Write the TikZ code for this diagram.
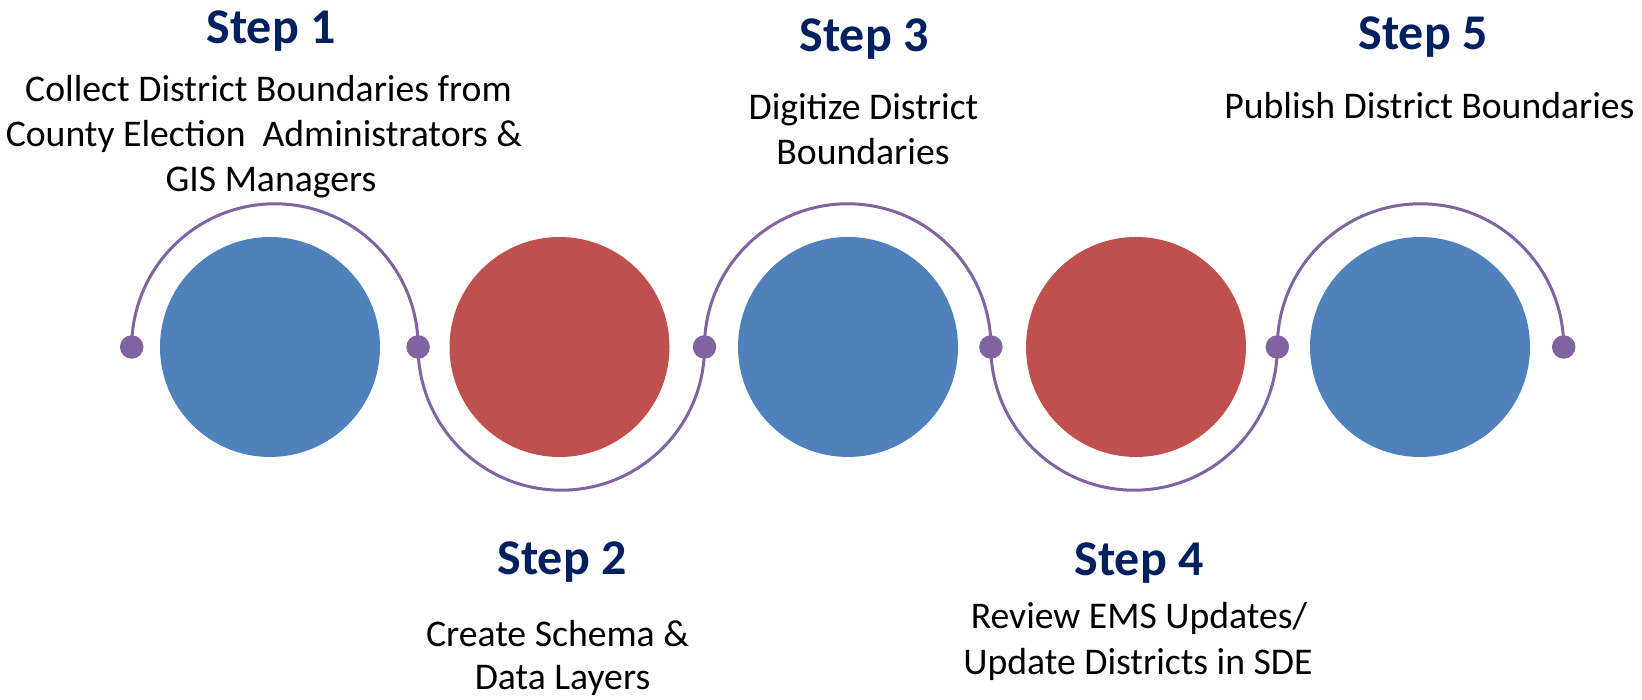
\documentclass[tikz,border=0pt]{standalone}
\usepackage{fontspec}
\setmainfont{Carlito}
\definecolor{stepblue}{HTML}{4F81BD}
\definecolor{stepred}{HTML}{C0504D}
\definecolor{linkpurple}{HTML}{8064A2}
\definecolor{titlenavy}{HTML}{002060}
\begin{document}
\begin{tikzpicture}[x=1pt,y=1pt,
  bigcirc/.style={circle,minimum size=220pt,inner sep=0pt,draw=none},
  bluecirc/.style={bigcirc,fill=stepblue},
  redcirc/.style={bigcirc,fill=stepred},
  dotnode/.style={circle,minimum size=23.5pt,inner sep=0pt,fill=linkpurple},
  link/.style={draw=linkpurple,line width=3pt},
  steptitle/.style={anchor=base,inner sep=0pt,text=titlenavy,font=\fontsize{50}{60}\selectfont\bfseries},
  stepbody/.style={anchor=base,inner sep=0pt,text=black,font=\fontsize{37.7}{45}\selectfont}]
\useasboundingbox (0,0) rectangle (1642,700);
% connection points
\coordinate (p0) at (131.7,353);
\coordinate (p1) at (418.1,353);
\coordinate (p2) at (704.5,353);
\coordinate (p3) at (990.9,353);
\coordinate (p4) at (1277.3,353);
\coordinate (p5) at (1563.7,353);
% arcs
\draw[link] (p0) arc[start angle=180,end angle=0,radius=143.2];
\draw[link] (p1) arc[start angle=180,end angle=360,radius=143.2];
\draw[link] (p2) arc[start angle=180,end angle=0,radius=143.2];
\draw[link] (p3) arc[start angle=180,end angle=360,radius=143.2];
\draw[link] (p4) arc[start angle=180,end angle=0,radius=143.2];
% dots
\node[dotnode] (d0) at (p0) {};
\node[dotnode] (d1) at (p1) {};
\node[dotnode] (d2) at (p2) {};
\node[dotnode] (d3) at (p3) {};
\node[dotnode] (d4) at (p4) {};
\node[dotnode] (d5) at (p5) {};
% circles
\node[bluecirc] (c1) at (270,353) {};
\node[redcirc]  (c2) at (559.5,353) {};
\node[bluecirc] (c3) at (848,353) {};
\node[redcirc]  (c4) at (1136,353) {};
\node[bluecirc] (c5) at (1420,353) {};
% step 1
\node[steptitle] (t1) at (271,656.7) {Step 1};
\node[stepbody] (b1a) at (268.5,598.3) {Collect District Boundaries from};
\node[stepbody] (b1b) at (264,553.3) {County Election\ \ Administrators \&};
\node[stepbody] (b1c) at (271,508.3) {GIS Managers};
% step 2
\node[steptitle] (t2) at (562,125) {Step 2};
\node[stepbody] (b2a) at (557.5,53.3) {Create Schema \&};
\node[stepbody] (b2b) at (562.5,10) {Data Layers};
% step 3
\node[steptitle] (t3) at (864,648.3) {Step 3};
\node[stepbody] (b3a) at (863.5,580) {Digitize District};
\node[stepbody] (b3b) at (863,535) {Boundaries};
% step 4
\node[steptitle] (t4) at (1139,124) {Step 4};
\node[stepbody] (b4a) at (1139,71) {Review EMS Updates/};
\node[stepbody] (b4b) at (1138,25) {Update Districts in SDE};
% step 5
\node[steptitle] (t5) at (1423,650) {Step 5};
\node[stepbody] (b5a) at (1429.5,581.7) {Publish District Boundaries};
\end{tikzpicture}
\end{document}
